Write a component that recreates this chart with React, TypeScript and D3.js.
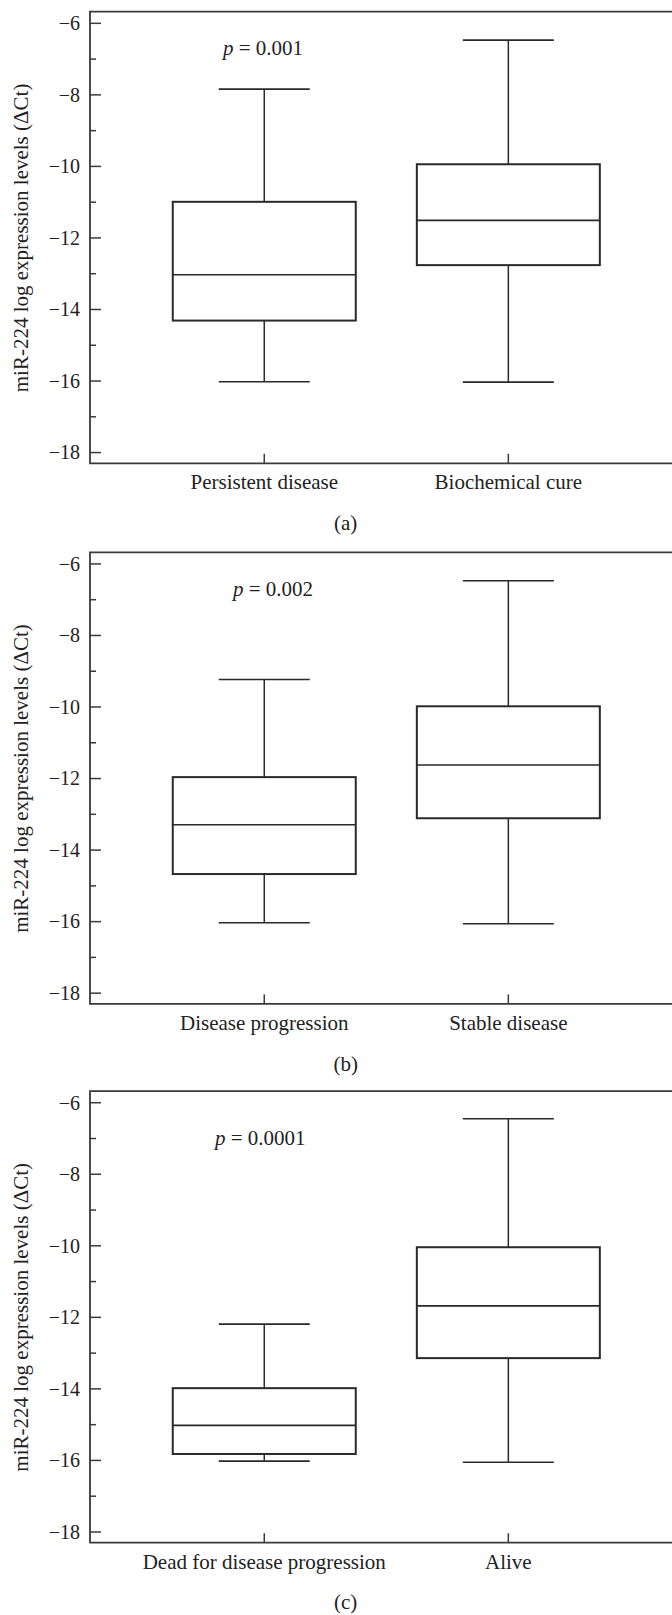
import React, { useRef, useEffect } from 'react';
import * as d3 from 'd3';

// box stats per group: [lower whisker, q1, median, q3, upper whisker]
const panelLabels = ['(a)', '(b)', '(c)'];
const categoriesA = ['Persistent disease', 'Biochemical cure'];
const categoriesB = ['Disease progression', 'Stable disease'];
const categoriesC = ['Dead for disease progression', 'Alive'];
const statsA = [
  [-16.02, -14.31, -13.03, -10.99, -7.84],
  [-16.03, -12.76, -11.51, -9.94, -6.47],
];
const statsB = [
  [-16.03, -14.67, -13.29, -11.96, -9.23],
  [-16.06, -13.11, -11.62, -9.98, -6.47],
];
const statsC = [
  [-16.02, -15.82, -15.02, -13.98, -12.19],
  [-16.05, -13.14, -11.68, -10.04, -6.45],
];
const pValues = ['0.001', '0.002', '0.0001'];
const yTicks = [-6, -8, -10, -12, -14, -16, -18];
const yMinorTicks = [-7, -9, -11, -13, -15, -17];
const yTitle = 'miR-224 log expression levels (\u0394Ct)';

const W = 672;
const H = 1615;
const FONT = '"Liberation Serif", "Times New Roman", serif';
const INK = '#222';

export default function App() {
  const svgRef = useRef<SVGSVGElement>(null);

  useEffect(() => {
    if (!svgRef.current) return;
    const svg = d3.select(svgRef.current);
    svg.selectAll('*').remove();

    const panels = [
      { cats: categoriesA, stats: statsA, p: pValues[0], label: panelLabels[0], offset: 0, pX: 223, pY: -6.89 },
      { cats: categoriesB, stats: statsB, p: pValues[1], label: panelLabels[1], offset: 540.6, pX: 233, pY: -6.91 },
      { cats: categoriesC, stats: statsC, p: pValues[2], label: panelLabels[2], offset: 1079.4, pX: 215, pY: -7.18 },
    ];

    const axisX = 90;
    const top = 11.7;
    const bottom = 463.3;
    const boxW = 183;
    const capW = 91;

    const y = d3.scaleLinear().domain([-18.3, -5.675]).range([bottom, top]);

    panels.forEach((panel) => {
      const g = svg.append('g').attr('transform', `translate(0, ${panel.offset})`);
      const x = d3.scalePoint<string>().domain(panel.cats).range([axisX, 682.6]).padding(0.714);

      // frame: top line, left axis, bottom axis
      g.append('path')
        .attr('d', `M${W + 20},${top} H${axisX} V${bottom} H${W + 20}`)
        .attr('fill', 'none')
        .attr('stroke', '#3a3a3a')
        .attr('stroke-width', 1.8);

      // y ticks (inward)
      g.selectAll('.major')
        .data(yTicks)
        .enter()
        .append('line')
        .attr('x1', axisX)
        .attr('x2', axisX + 11)
        .attr('y1', (d) => y(d))
        .attr('y2', (d) => y(d))
        .attr('stroke', '#3a3a3a')
        .attr('stroke-width', 1.5);
      g.selectAll('.minor')
        .data(yMinorTicks)
        .enter()
        .append('line')
        .attr('x1', axisX)
        .attr('x2', axisX + 6)
        .attr('y1', (d) => y(d))
        .attr('y2', (d) => y(d))
        .attr('stroke', '#3a3a3a')
        .attr('stroke-width', 1.5);
      g.selectAll('.ylab')
        .data(yTicks)
        .enter()
        .append('text')
        .attr('x', axisX - 10)
        .attr('y', (d) => y(d))
        .attr('dy', '0.34em')
        .attr('text-anchor', 'end')
        .attr('font-family', FONT)
        .attr('font-size', 20)
        .attr('fill', INK)
        .text((d) => `\u2212${Math.abs(d)}`);

      // y title
      g.append('text')
        .attr('transform', `translate(28, ${y(-12)}) rotate(-90)`)
        .attr('text-anchor', 'middle')
        .attr('font-family', FONT)
        .attr('font-size', 21)
        .attr('fill', INK)
        .text(yTitle);

      // x ticks (inward) and labels
      panel.cats.forEach((c) => {
        const cx = x(c)!;
        g.append('line')
          .attr('x1', cx)
          .attr('x2', cx)
          .attr('y1', bottom)
          .attr('y2', bottom - 9.5)
          .attr('stroke', '#3a3a3a')
          .attr('stroke-width', 1.5);
        g.append('text')
          .attr('x', cx)
          .attr('y', bottom + 26)
          .attr('text-anchor', 'middle')
          .attr('font-family', FONT)
          .attr('font-size', 21)
          .attr('fill', INK)
          .text(c);
      });

      // boxes
      panel.stats.forEach((s, i) => {
        const cx = x(panel.cats[i])!;
        const [lo, q1, med, q3, hi] = s;
        const bg = g.append('g').attr('stroke', '#2a2a2a').attr('fill', 'none');
        bg.append('line').attr('x1', cx).attr('x2', cx).attr('y1', y(hi)).attr('y2', y(q3)).attr('stroke-width', 1.5);
        bg.append('line').attr('x1', cx).attr('x2', cx).attr('y1', y(q1)).attr('y2', y(lo)).attr('stroke-width', 1.5);
        bg.append('line').attr('x1', cx - capW / 2).attr('x2', cx + capW / 2).attr('y1', y(hi)).attr('y2', y(hi)).attr('stroke-width', 1.6);
        bg.append('line').attr('x1', cx - capW / 2).attr('x2', cx + capW / 2).attr('y1', y(lo)).attr('y2', y(lo)).attr('stroke-width', 1.6);
        bg.append('rect')
          .attr('x', cx - boxW / 2)
          .attr('y', y(q3))
          .attr('width', boxW)
          .attr('height', y(q1) - y(q3))
          .attr('stroke-width', 2);
        bg.append('line').attr('x1', cx - boxW / 2).attr('x2', cx + boxW / 2).attr('y1', y(med)).attr('y2', y(med)).attr('stroke-width', 1.6);
      });

      // p value
      const pt = g.append('text')
        .attr('x', panel.pX)
        .attr('y', y(panel.pY))
        .attr('font-family', FONT)
        .attr('font-size', 21)
        .attr('fill', INK);
      pt.append('tspan').attr('font-style', 'italic').text('p');
      pt.append('tspan').text(` = ${panel.p}`);

      // panel label
      g.append('text')
        .attr('x', 345.7)
        .attr('y', bottom + 66.7)
        .attr('text-anchor', 'middle')
        .attr('font-family', FONT)
        .attr('font-size', 21)
        .attr('fill', INK)
        .text(panel.label);
    });
  }, []);

  return (
    <svg
      ref={svgRef}
      width={W}
      height={H}
      style={{ position: 'absolute', left: 0, top: 0, background: '#fff', display: 'block' }}
    />
  );
}
